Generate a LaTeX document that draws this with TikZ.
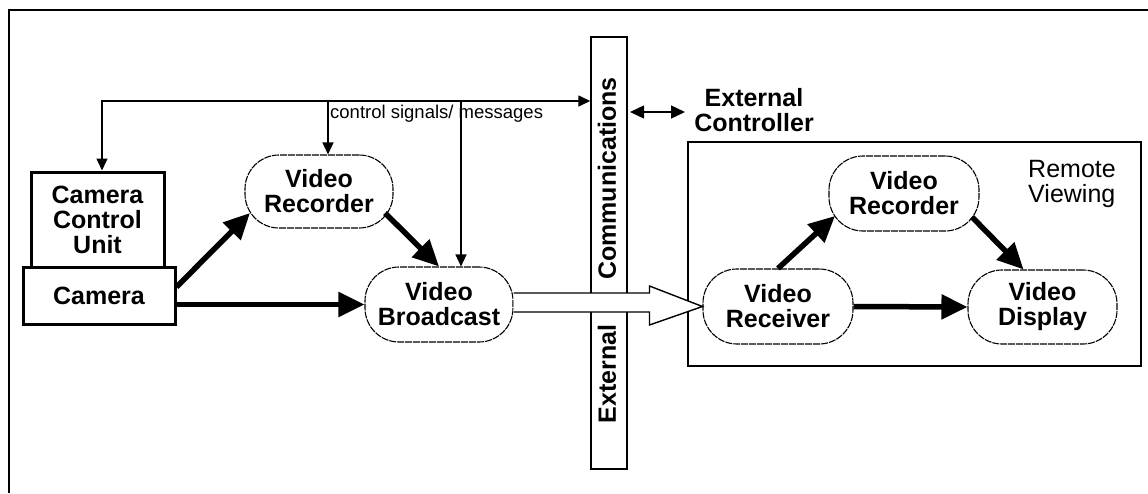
\documentclass[tikz,border=0pt]{standalone}
\usepackage{fontspec}
\setmainfont{Liberation Sans}
\usetikzlibrary{arrows.meta,calc}
\begin{document}
\begin{tikzpicture}[x=1pt,y=-1pt,
  lbl/.style={font=\fontsize{25}{25}\selectfont\bfseries, align=center, inner sep=0pt},
  boxnode/.style={lbl, draw, line width=3pt, rectangle},
  oval/.style={lbl, draw, line width=1.1pt, dash pattern=on 7pt off 1pt, rectangle, rounded corners=34pt},
  thin/.style={line width=1.4pt, -{Triangle[length=12pt,width=11pt]}},
  fat/.style={line width=5.5pt, -{Triangle[length=26pt,width=24pt]}},
  hollow/.style={line width=1.4pt, fill=white, line join=miter},
  barbox/.style={draw, line width=1.4pt, rectangle, inner sep=0pt}
]
\useasboundingbox (0,0) rectangle (1148,493);
% outer frame
\coordinate (f1) at (9,493);
\coordinate (f2) at (9,10);
\coordinate (f3) at (1148,10);
\draw[line width=2pt] (f1) -- (f2) -- (f3);

% communications bar
\node[barbox, minimum width=36pt, minimum height=432pt] (bar) at (609,253) {};
\node[font=\fontsize{25}{25}\selectfont\bfseries, rotate=90, inner sep=0pt] (comm) at (607,178.5) {Communications};
\node[font=\fontsize{25}{25}\selectfont\bfseries, rotate=90, inner sep=0pt] (ext) at (607,374) {External};

% left side nodes
\node[boxnode, minimum width=133pt, minimum height=95pt] (ccu) at (97.5,219.5) {Camera\\Control\\Unit};
\node[boxnode, minimum width=152pt, minimum height=57pt] (cam) at (99,295.5) {Camera};
\node[oval, minimum width=148pt, minimum height=73pt] (recL) at (319,191.5) {Video\\Recorder};
\node[oval, minimum width=148pt, minimum height=75pt] (bc) at (439,304.5) {Video\\Broadcast};

% remote viewing
\node[draw, line width=1.4pt, minimum width=453pt, minimum height=224pt, inner sep=0pt] (rv) at (914.5,254) {};
\node[font=\fontsize{25}{25}\selectfont, align=left, inner sep=0pt] (rvt) at (1072,184) {Remote\\Viewing};
\node[oval, minimum width=150pt, minimum height=75pt] (recR) at (904,193.5) {Video\\Recorder};
\node[oval, minimum width=150pt, minimum height=75pt] (rx) at (778,306.5) {Video\\Receiver};
\node[oval, minimum width=149pt, minimum height=74pt] (disp) at (1042.5,307) {Video\\Display};

% external controller
\node[lbl] (ec) at (754,110) {External\\Controller};
\coordinate (d1) at (630,112);
\coordinate (d2) at (685,112);
\draw[line width=1.4pt, {Triangle[length=14pt,width=13pt]}-{Triangle[length=14pt,width=13pt]}] (d1) -- (d2);

% control signals
\coordinate (tl) at (102,101);
\draw[line width=1.4pt, {Triangle[length=12pt,width=11pt]}-{Triangle[length=12pt,width=11pt]}] (tl |- ccu.north) -- (tl) -- (bar.west |- tl);
\coordinate (t2) at (328,101);
\coordinate (t3) at (461,101);
\draw[thin] (t2) -- (t2 |- recL.north);
\draw[thin] (t3) -- (t3 |- bc.north);
\node[font=\fontsize{18.5}{18.5}\selectfont, anchor=base west, inner sep=0pt] (cs) at (330,118) {control signals/ messages};

% thick arrows left
\draw[fat] ($(cam.east)+(0,-8.5)$) -- ($(recL.center)+(-69,21.5)$);
\draw[fat] ($(recL.center)+(66,21.5)$) -- (bc.north);
\draw[fat] (cam.east |- bc.west) -- (bc.west);

% thick arrows right
\draw[fat] (rx.north) -- ($(recR.center)+(-69,22.5)$);
\draw[fat] ($(recR.center)+(68,23.5)$) -- ($(disp.north)+(-19,0)$);
\draw[fat] (rx.east) -- (disp.west);

% hollow broadcast arrow
\draw[hollow] ($(bc.east)+(0,-11.5)$) -- ($(rx.west)+(-53,-13.5)$) -- ($(rx.west)+(-53,-20.5)$) -- (rx.west) -- ($(rx.west)+(-53,18.5)$) -- ($(rx.west)+(-53,5.5)$) -- ($(bc.east)+(0,7.5)$);
\end{tikzpicture}
\end{document}
